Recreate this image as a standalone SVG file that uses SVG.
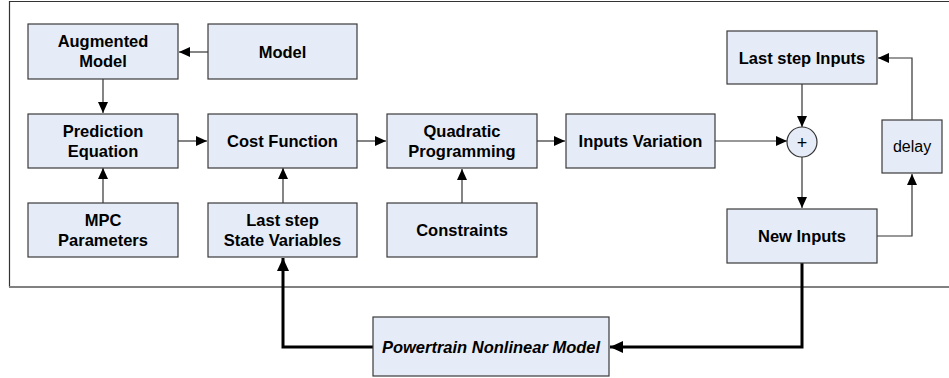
<svg xmlns="http://www.w3.org/2000/svg" width="949" height="378" viewBox="0 0 949 378">
<defs>
<marker id="a" markerUnits="userSpaceOnUse" markerWidth="12" markerHeight="10" refX="11" refY="5" orient="auto">
<path d="M0,0 L11,5 L0,10 Z" fill="#000"/>
</marker>
<marker id="b" markerUnits="userSpaceOnUse" markerWidth="14" markerHeight="12" refX="13" refY="6" orient="auto">
<path d="M0,0 L13,6 L0,12 Z" fill="#000"/>
</marker>
</defs>
<style>
.box{fill:#E6ECF7;stroke:#3a3a3a;stroke-width:1.2}
.t{font-family:"Liberation Sans",Arial,sans-serif;font-size:16.5px;font-weight:bold;fill:#000;text-anchor:middle}
.n{font-family:"Liberation Sans",Arial,sans-serif;font-size:16px;fill:#000;text-anchor:middle}
.c{fill:none;stroke:#333;stroke-width:1.2;marker-end:url(#a)}
.k{fill:none;stroke:#000;stroke-width:3;marker-end:url(#b)}
</style>
<g id="frame">
<path d="M960,1.5 H9.5 V287" fill="none" stroke="#333" stroke-width="1.2"/>
<line x1="9" y1="287" x2="949" y2="287" stroke="#808080" stroke-width="2"/>
</g>
<g id="connectors">
<line class="c" x1="208" y1="52" x2="179" y2="52"/>
<line class="c" x1="103" y1="79" x2="103" y2="113"/>
<line class="c" x1="103" y1="203" x2="103" y2="168"/>
<line class="c" x1="178" y1="141" x2="207" y2="141"/>
<line class="c" x1="357" y1="141" x2="386" y2="141"/>
<line class="c" x1="283" y1="203" x2="283" y2="168"/>
<line class="c" x1="462" y1="203" x2="462" y2="169"/>
<line class="c" x1="537" y1="141" x2="565" y2="141"/>
<line class="c" x1="715" y1="141" x2="787" y2="141"/>
<line class="c" x1="802" y1="84" x2="802" y2="127"/>
<line class="c" x1="802" y1="157" x2="802" y2="208"/>
<polyline class="c" points="877,236 912,236 912,174"/>
<polyline class="c" points="912,120 912,58 878,58"/>
<polyline class="k" points="802,263 802,347 610,347"/>
<polyline class="k" points="373,347 283,347 283,258"/>
</g>
<g id="augmented-model"><rect class="box" x="28" y="24" width="150" height="55"/><text class="t" x="103" y="47">Augmented</text><text class="t" x="103" y="67">Model</text></g>
<g id="model"><rect class="box" x="208" y="24" width="149" height="55"/><text class="t" x="282.5" y="57.5">Model</text></g>
<g id="prediction-equation"><rect class="box" x="28" y="114" width="150" height="54"/><text class="t" x="103" y="136.5">Prediction</text><text class="t" x="103" y="156.5">Equation</text></g>
<g id="cost-function"><rect class="box" x="208" y="114" width="149" height="54"/><text class="t" x="282.5" y="147">Cost Function</text></g>
<g id="mpc-parameters"><rect class="box" x="28" y="203" width="150" height="54"/><text class="t" x="103" y="225.5">MPC</text><text class="t" x="103" y="245.5">Parameters</text></g>
<g id="last-step-state"><rect class="box" x="208" y="203" width="149" height="54"/><text class="t" x="282.5" y="225.5">Last step</text><text class="t" x="282.5" y="245.5">State Variables</text></g>
<g id="quadratic-programming"><rect class="box" x="387" y="114" width="150" height="54"/><text class="t" x="462" y="136.5">Quadratic</text><text class="t" x="462" y="156.5">Programming</text></g>
<g id="constraints"><rect class="box" x="387" y="203" width="150" height="54"/><text class="t" x="462" y="236">Constraints</text></g>
<g id="inputs-variation"><rect class="box" x="566" y="114" width="149" height="54"/><text class="t" x="640.5" y="147">Inputs Variation</text></g>
<g id="last-step-inputs"><rect class="box" x="727" y="31" width="150" height="53"/><text class="t" x="802" y="63.5">Last step Inputs</text></g>
<g id="sum"><circle cx="802" cy="142" r="15" fill="#E6ECF7" stroke="#333" stroke-width="1.2"/><text class="n" x="802" y="148.5" style="font-size:18px">+</text></g>
<g id="delay"><rect class="box" x="882" y="120" width="60" height="53"/><text class="n" x="912" y="152">delay</text></g>
<g id="new-inputs"><rect class="box" x="727" y="209" width="150" height="54"/><text class="t" x="802" y="242">New Inputs</text></g>
<g id="powertrain"><rect class="box" x="373" y="317" width="236" height="59"/><text class="t" x="491" y="353" font-style="italic">Powertrain Nonlinear Model</text></g>
</svg>
